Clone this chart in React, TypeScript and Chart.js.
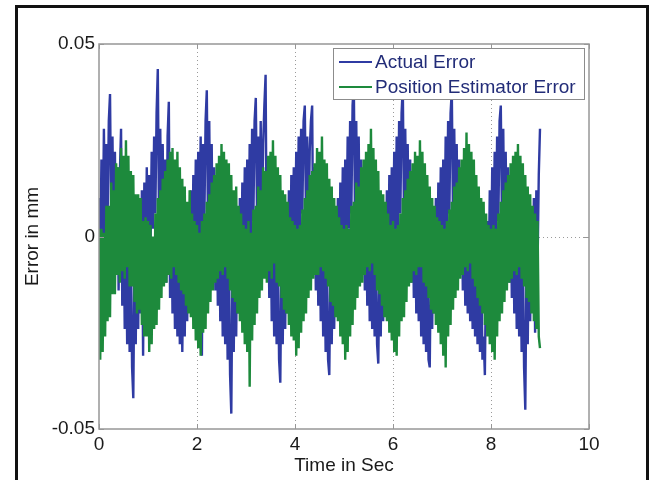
import React, { useEffect, useRef } from 'react';
import { Chart, registerables } from 'chart.js';

Chart.register(...registerables);

// ---------- data ----------
const seriesNames = ['Actual Error', 'Position Estimator Error'];
const timeStart = 0; // s
const timeStep = 0.025; // s between samples

const actualError = [
  // 0 - 1 s
  0.010, -0.006, 0.020, -0.004, 0.028, 0.000, 0.024, 0.004, 0.030, 0.037,
  0.002, 0.026, -0.004, 0.022, -0.010, 0.018, -0.014, 0.016, 0.028, -0.018,
  0.010, -0.024, 0.004, -0.028, 0.002, -0.030, 0.000, -0.034, -0.042, -0.004,
  -0.028, 0.006, -0.024, 0.010, -0.020, 0.012, -0.031, 0.014, -0.012, 0.018,
  // 1 - 2 s
  -0.008, 0.016, -0.004, 0.022, 0.002, 0.026, 0.006, 0.032, 0.0435, 0.004,
  0.028, -0.002, 0.024, -0.008, 0.020, -0.012, 0.026, 0.035, -0.016, 0.012,
  -0.020, 0.008, -0.024, 0.004, -0.026, 0.000, -0.028, -0.002, -0.030, -0.004,
  -0.026, 0.004, -0.022, 0.008, -0.018, 0.012, -0.014, 0.016, -0.010, 0.020,
  // 2 - 3 s
  -0.006, 0.022, -0.002, 0.026, -0.031, 0.024, 0.004, 0.030, 0.038, 0.002,
  0.030, -0.004, 0.024, -0.010, 0.018, -0.014, 0.014, -0.018, 0.010, -0.022,
  0.006, -0.026, 0.004, -0.028, 0.000, -0.032, -0.002, -0.036, -0.046, -0.006,
  -0.030, 0.002, -0.026, 0.006, -0.020, 0.010, -0.016, 0.014, -0.010, 0.018,
  // 3 - 4 s
  -0.004, 0.020, -0.008, 0.024, -0.002, 0.028, 0.004, 0.030, 0.036, 0.006,
  0.026, 0.002, 0.030, -0.002, 0.024, 0.034, 0.042, -0.008, 0.014, -0.016,
  0.010, -0.022, 0.006, -0.026, 0.002, -0.028, -0.002, -0.032, -0.038, -0.004,
  -0.028, 0.004, -0.024, 0.008, -0.020, 0.012, -0.016, 0.016, -0.010, 0.018,
  // 4 - 5 s
  -0.006, 0.022, -0.002, 0.026, 0.002, 0.028, 0.006, 0.030, 0.034, 0.004,
  0.026, -0.002, 0.022, 0.030, 0.034, -0.008, 0.018, -0.014, 0.014, -0.018,
  0.010, -0.022, 0.006, -0.026, 0.002, -0.030, -0.002, -0.032, -0.036, -0.006,
  -0.028, 0.002, -0.024, 0.006, -0.020, 0.010, -0.016, 0.014, -0.010, 0.018,
  // 5 - 6 s
  -0.006, 0.020, -0.002, 0.026, 0.002, 0.030, 0.006, 0.034, 0.040, 0.004,
  0.030, -0.002, 0.026, -0.006, 0.020, -0.010, 0.016, -0.014, 0.012, -0.018,
  0.008, -0.022, 0.004, -0.024, 0.002, -0.026, -0.002, -0.028, -0.033, -0.004,
  -0.026, 0.004, -0.022, 0.008, -0.018, 0.012, -0.014, 0.016, -0.010, 0.018,
  // 6 - 7 s
  -0.006, 0.022, -0.002, 0.026, 0.002, 0.030, 0.006, 0.032, 0.039, 0.004,
  0.028, -0.002, 0.024, -0.008, 0.020, -0.012, 0.016, -0.016, 0.012, -0.020,
  0.008, -0.022, 0.004, -0.026, 0.002, -0.028, 0.000, -0.030, -0.002, -0.032,
  -0.034, -0.002, -0.024, 0.006, -0.020, 0.010, -0.016, 0.014, -0.010, 0.018,
  // 7 - 8 s
  -0.006, 0.020, -0.002, 0.026, 0.002, 0.030, 0.006, 0.032, 0.038, 0.004,
  0.028, -0.002, 0.024, -0.006, 0.020, -0.010, 0.016, -0.014, 0.012, -0.018,
  0.008, -0.020, 0.006, -0.022, 0.004, -0.024, 0.002, -0.026, 0.000, -0.028,
  -0.002, -0.030, -0.004, -0.032, -0.026, -0.036, -0.006, 0.004, -0.014, 0.012,
  // 8 - 9 s
  -0.010, 0.018, -0.004, 0.022, 0.000, 0.026, 0.004, 0.030, 0.034, 0.002,
  0.028, -0.004, 0.022, -0.008, 0.018, -0.012, 0.014, -0.016, 0.010, -0.020,
  0.006, -0.024, 0.002, -0.026, 0.000, -0.030, -0.002, -0.034, -0.045, -0.006,
  -0.028, 0.002, -0.022, 0.006, -0.018, 0.010, -0.025, 0.012, -0.008, 0.016,
  // 9 s
  0.028,
];

const estimatorError = [
  // 0 - 1 s
  0.002, -0.032, 0.002, -0.030, 0.001, -0.026, 0.008, -0.022, 0.008, -0.021,
  0.014, -0.015, 0.012, -0.015, 0.019, -0.010, 0.018, -0.012, 0.023, -0.009,
  0.021, -0.011, 0.025, -0.008, 0.021, -0.013, 0.017, -0.013, 0.016, -0.017,
  0.011, -0.020, 0.011, -0.019, 0.010, -0.023, 0.004, -0.026, 0.005, -0.026,
  // 1 - 2 s
  0.004, -0.030, 0.003, -0.028, 0.000, -0.024, 0.006, -0.023, 0.010, -0.019,
  0.012, -0.016, 0.015, -0.013, 0.017, -0.012, 0.020, -0.010, 0.022, -0.011,
  0.023, -0.008, 0.020, -0.010, 0.022, -0.012, 0.018, -0.014, 0.015, -0.015,
  0.013, -0.018, 0.009, -0.020, 0.012, -0.021, 0.006, -0.024, 0.004, -0.027,
  // 2 - 3 s
  0.003, -0.029, 0.001, -0.031, 0.004, -0.025, 0.006, -0.024, 0.009, -0.020,
  0.011, -0.017, 0.014, -0.014, 0.016, -0.012, 0.019, -0.011, 0.021, -0.009,
  0.024, -0.010, 0.022, -0.008, 0.020, -0.011, 0.019, -0.014, 0.016, -0.016,
  0.012, -0.017, 0.013, -0.020, 0.008, -0.022, 0.006, -0.025, 0.003, -0.028,
  // 3 - 4 s
  0.002, -0.030, 0.004, -0.039, 0.001, -0.027, 0.007, -0.023, 0.008, -0.020,
  0.013, -0.016, 0.012, -0.014, 0.018, -0.011, 0.017, -0.012, 0.021, -0.009,
  0.022, -0.011, 0.025, -0.007, 0.021, -0.012, 0.018, -0.013, 0.016, -0.016,
  0.012, -0.019, 0.011, -0.020, 0.009, -0.023, 0.005, -0.026, 0.004, -0.027,
  // 4 - 5 s
  0.003, -0.031, 0.002, -0.029, 0.003, -0.025, 0.007, -0.022, 0.010, -0.020,
  0.012, -0.016, 0.016, -0.014, 0.017, -0.011, 0.019, -0.010, 0.023, -0.010,
  0.022, -0.008, 0.026, -0.009, 0.020, -0.011, 0.019, -0.013, 0.015, -0.017,
  0.013, -0.018, 0.010, -0.021, 0.008, -0.022, 0.005, -0.026, 0.003, -0.028,
  // 5 - 6 s
  0.002, -0.032, 0.003, -0.030, 0.002, -0.026, 0.008, -0.023, 0.009, -0.019,
  0.014, -0.016, 0.013, -0.013, 0.018, -0.012, 0.020, -0.010, 0.022, -0.008,
  0.024, -0.009, 0.028, -0.007, 0.023, -0.010, 0.020, -0.014, 0.017, -0.015,
  0.012, -0.018, 0.011, -0.021, 0.009, -0.022, 0.006, -0.025, 0.003, -0.027,
  // 6 - 7 s
  0.004, -0.030, 0.002, -0.031, 0.003, -0.026, 0.006, -0.022, 0.010, -0.021,
  0.012, -0.017, 0.015, -0.013, 0.017, -0.012, 0.019, -0.009, 0.022, -0.010,
  0.021, -0.008, 0.025, -0.008, 0.022, -0.012, 0.019, -0.013, 0.016, -0.016,
  0.013, -0.019, 0.010, -0.020, 0.008, -0.023, 0.005, -0.025, 0.004, -0.028,
  // 7 - 8 s
  0.003, -0.031, 0.002, -0.034, 0.004, -0.026, 0.007, -0.023, 0.009, -0.019,
  0.013, -0.016, 0.014, -0.014, 0.018, -0.011, 0.020, -0.010, 0.023, -0.008,
  0.027, -0.009, 0.024, -0.007, 0.022, -0.011, 0.020, -0.013, 0.016, -0.016,
  0.013, -0.018, 0.010, -0.020, 0.009, -0.023, 0.006, -0.026, 0.003, -0.028,
  // 8 - 9 s
  0.002, -0.030, 0.003, -0.032, 0.002, -0.026, 0.006, -0.022, 0.009, -0.020,
  0.012, -0.017, 0.014, -0.014, 0.016, -0.012, 0.019, -0.011, 0.021, -0.009,
  0.022, -0.010, 0.024, -0.008, 0.021, -0.011, 0.019, -0.013, 0.016, -0.016,
  0.013, -0.017, 0.011, -0.020, 0.008, -0.022, 0.006, -0.024, 0.004, -0.026,
  // 9 s
  -0.029,
];

const xTickValues = [0, 2, 4, 6, 8, 10];
const xTickLabels = ['0', '2', '4', '6', '8', '10'];
const yTickValues = [-0.05, 0, 0.05];
const yTickLabels = ['-0.05', '0', '0.05'];
const xGridValues = [2, 4, 6, 8];
const yGridValues = [0];
const xAxisTitle = 'Time in Sec';
const yAxisTitle = 'Error in mm';

// ---------- styles / layout ----------
const W = 653;
const H = 480;
const FONT = "'Liberation Sans', Arial, sans-serif";
const FONT_SIZE = 19;
const BLUE = '#2f3ba3';
const GREEN = '#1d8a3c';
const TEXT = '#1a1a1a';
const LEGEND_TEXT = '#222c78';
const AXIS_COLOR = '#979797';
const GRID_COLOR = '#9a9a9a';

const toPoints = (values: number[]) =>
  values.map((v, i) => ({ x: timeStart + i * timeStep, y: v }));

const gridPlugin = {
  id: 'matlabGrid',
  beforeDatasetsDraw(chart: any) {
    const { ctx, chartArea: a, scales } = chart;
    ctx.save();
    ctx.strokeStyle = GRID_COLOR;
    ctx.lineWidth = 1;
    ctx.setLineDash([1, 3]);
    xGridValues.forEach((v) => {
      const x = Math.round(scales.x.getPixelForValue(v)) + 0.5;
      ctx.beginPath();
      ctx.moveTo(x, a.top);
      ctx.lineTo(x, a.bottom);
      ctx.stroke();
    });
    yGridValues.forEach((v) => {
      const y = Math.round(scales.y.getPixelForValue(v)) + 0.5;
      ctx.beginPath();
      ctx.moveTo(a.left, y);
      ctx.lineTo(a.right, y);
      ctx.stroke();
    });
    ctx.restore();
  },
};

const framePlugin = {
  id: 'matlabFrame',
  afterDatasetsDraw(chart: any) {
    const { ctx, chartArea: a, scales } = chart;
    ctx.save();
    ctx.setLineDash([]);
    ctx.strokeStyle = AXIS_COLOR;
    ctx.lineWidth = 1.5;
    ctx.strokeRect(a.left, a.top, a.right - a.left, a.bottom - a.top);
    // inward ticks
    const tl = 5;
    ctx.lineWidth = 1;
    xTickValues.forEach((v) => {
      const x = Math.round(scales.x.getPixelForValue(v)) + 0.5;
      ctx.beginPath();
      ctx.moveTo(x, a.bottom);
      ctx.lineTo(x, a.bottom - tl);
      ctx.moveTo(x, a.top);
      ctx.lineTo(x, a.top + tl);
      ctx.stroke();
    });
    yTickValues.forEach((v) => {
      const y = Math.round(scales.y.getPixelForValue(v)) + 0.5;
      ctx.beginPath();
      ctx.moveTo(a.left, y);
      ctx.lineTo(a.left + tl, y);
      ctx.moveTo(a.right, y);
      ctx.lineTo(a.right - tl, y);
      ctx.stroke();
    });

    // legend box (inside plot, top right)
    const bw = 251;
    const bh = 51;
    const bx = a.right - 5 - bw;
    const by = a.top + 4;
    ctx.fillStyle = '#ffffff';
    ctx.fillRect(bx, by, bw, bh);
    ctx.strokeStyle = '#8c8c8c';
    ctx.lineWidth = 1;
    ctx.strokeRect(bx + 0.5, by + 0.5, bw, bh);
    const colors = [BLUE, GREEN];
    seriesNames.forEach((name, i) => {
      const cy = by + 14 + i * 25;
      ctx.strokeStyle = colors[i];
      ctx.lineWidth = 2;
      ctx.beginPath();
      ctx.moveTo(bx + 6, cy);
      ctx.lineTo(bx + 39, cy);
      ctx.stroke();
      ctx.fillStyle = LEGEND_TEXT;
      ctx.font = `19px ${FONT}`;
      ctx.textAlign = 'left';
      ctx.textBaseline = 'middle';
      ctx.fillText(name, bx + 42, cy + 1);
    });
    ctx.restore();
  },
};

export default function App() {
  const canvasRef = useRef<HTMLCanvasElement | null>(null);

  useEffect(() => {
    document.body.style.margin = '0';
    const canvas = canvasRef.current;
    if (!canvas) return;
    const chart = new Chart(canvas, {
      type: 'line',
      data: {
        datasets: [
          {
            label: seriesNames[0],
            data: toPoints(actualError),
            borderColor: BLUE,
            backgroundColor: BLUE,
            borderWidth: 2.4,
            pointRadius: 0,
            tension: 0,
            order: 1,
          },
          {
            label: seriesNames[1],
            data: toPoints(estimatorError),
            borderColor: GREEN,
            backgroundColor: GREEN,
            borderWidth: 2.4,
            pointRadius: 0,
            tension: 0,
            order: 0,
          },
        ],
      },
      options: {
        animation: false,
        responsive: false,
        events: [],
        layout: { padding: { top: 44, right: 64, bottom: 0, left: 0 } },
        plugins: {
          legend: { display: false },
          tooltip: { enabled: false },
        },
        scales: {
          x: {
            type: 'linear',
            min: 0,
            max: 10,
            grid: { display: false, drawTicks: false },
            border: { display: false },
            afterFit: (scale: any) => {
              scale.height = 51;
            },
            afterBuildTicks: (axis: any) => {
              axis.ticks = xTickValues.map((v) => ({ value: v }));
            },
            ticks: {
              padding: 4,
              color: TEXT,
              font: { family: FONT, size: FONT_SIZE },
              maxRotation: 0,
              autoSkip: false,
              callback: (value: any) => {
                const i = xTickValues.indexOf(Number(value));
                return i >= 0 ? xTickLabels[i] : '';
              },
            },
            title: {
              display: true,
              text: xAxisTitle,
              color: TEXT,
              font: { family: FONT, size: FONT_SIZE },
              padding: { top: 0, bottom: 3 },
            },
          },
          y: {
            type: 'linear',
            min: -0.05,
            max: 0.05,
            grid: { display: false, drawTicks: false },
            border: { display: false },
            afterFit: (scale: any) => {
              scale.width = 99;
            },
            afterBuildTicks: (axis: any) => {
              axis.ticks = yTickValues.map((v) => ({ value: v }));
            },
            ticks: {
              padding: 4,
              color: TEXT,
              font: { family: FONT, size: FONT_SIZE },
              autoSkip: false,
              callback: (value: any) => {
                const i = yTickValues.findIndex((t) => Math.abs(t - Number(value)) < 1e-9);
                return i >= 0 ? yTickLabels[i] : '';
              },
            },
            title: {
              display: true,
              text: yAxisTitle,
              color: TEXT,
              font: { family: FONT, size: FONT_SIZE },
              padding: { top: 21, bottom: 0 },
            },
          },
        },
      },
      plugins: [gridPlugin, framePlugin],
    } as any);
    return () => chart.destroy();
  }, []);

  return (
    <div
      style={{
        position: 'absolute',
        left: 0,
        top: 0,
        width: W,
        height: H,
        overflow: 'hidden',
        background: '#ffffff',
      }}
    >
      <canvas
        ref={canvasRef}
        width={W}
        height={H}
        style={{ position: 'absolute', left: 0, top: 0, width: W, height: H, display: 'block' }}
      />
      <div
        style={{
          position: 'absolute',
          left: 15,
          top: 5,
          width: 628,
          height: 520,
          border: '3px solid #111',
          pointerEvents: 'none',
        }}
      />
    </div>
  );
}
